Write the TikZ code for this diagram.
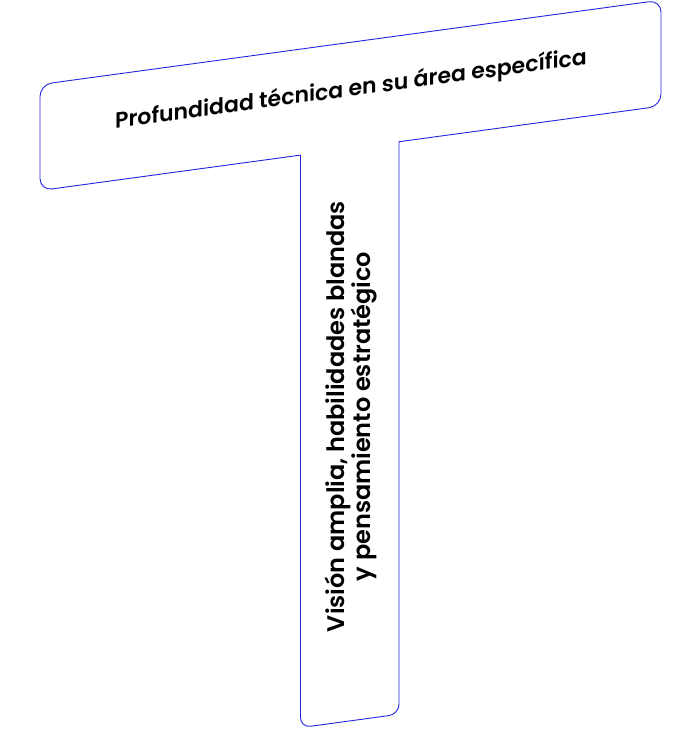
\documentclass[tikz,border=0pt]{standalone}
\usepackage{fontspec}
\setmainfont{Poppins}[UprightFont={* SemiBold}]
\definecolor{tblue}{RGB}{35,35,225}
\begin{document}
\begin{tikzpicture}[x=1pt,y=1pt,
  tline/.style={draw=tblue, line width=0.9pt},
  toptext/.style={font=\fontsize{22}{26}\selectfont, anchor=base, inner sep=0pt},
  stemtext/.style={font=\fontsize{24}{26}\selectfont, align=center, inner sep=0pt}]
\useasboundingbox (0,0) rectangle (700,736);
\begin{scope}[yslant=0.136]
\draw[tline] (300.5,540) -- (52,540) arc[start angle=270,end angle=180,radius=12]
  -- (40,634) arc[start angle=180,end angle=90,radius=12]
  -- (649,646) arc[start angle=90,end angle=0,radius=12]
  -- (661,552) arc[start angle=0,end angle=-90,radius=12]
  -- (399,540) -- (399,-22.5) arc[start angle=0,end angle=-90,radius=10]
  -- (310.5,-32.5) arc[start angle=270,end angle=180,radius=10] -- cycle;
\node[toptext, transform shape] (top) at (351,592) {Profundidad técnica en su área específica};
\end{scope}
\node[stemtext, rotate=90] (stem) at (351,319.5) {Visión amplia, habilidades blandas\\y pensamiento estratégico};
\end{tikzpicture}
\end{document}
